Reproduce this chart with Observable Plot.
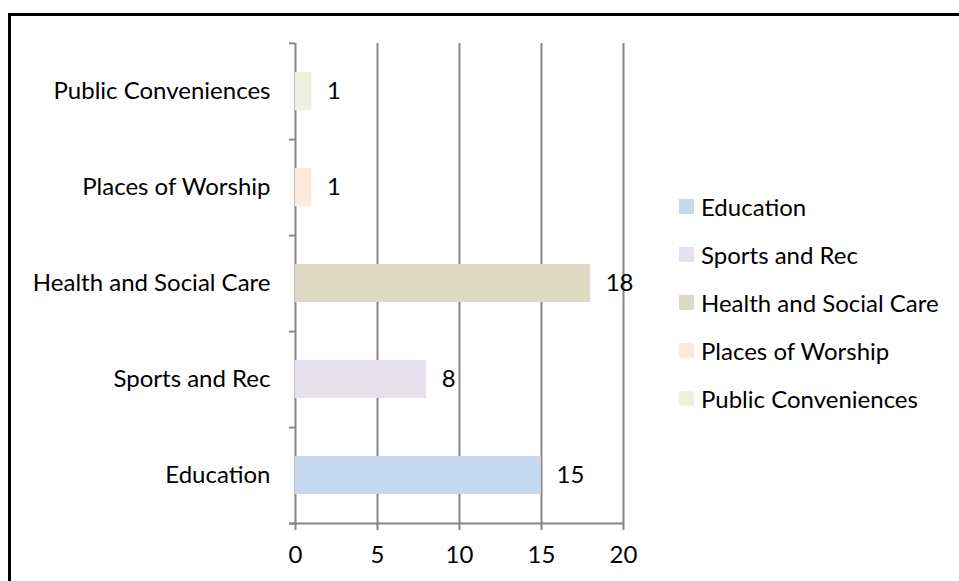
<!DOCTYPE html>
<html>
<head>
<meta charset="utf-8">
<script src="https://cdn.jsdelivr.net/npm/d3@7"></script>
<script src="https://cdn.jsdelivr.net/npm/@observablehq/plot@0.6"></script>
<style>
  html, body { margin: 0; padding: 0; background: #fff; overflow: hidden; }
  #wrap { position: relative; width: 959px; height: 581px; font-family: Lato, "Open Sans", sans-serif; }
  #frame { position: absolute; left: 8px; top: 13px; width: 980px; height: 600px; border: 3px solid #000; box-sizing: border-box; }
  #chart { position: absolute; left: 0; top: 0; }
  #legend { position: absolute; left: 679px; top: 182px; }
  .item { display: flex; align-items: center; height: 48px; font-size: 24px; color: #000; }
  .sw { width: 15px; height: 15px; margin-right: 7px; flex: none; }
</style>
</head>
<body>
<div id="wrap">
  <div id="frame"></div>
  <div id="chart"></div>
  <div id="legend"></div>
</div>
<script>
const categories = ["Education", "Sports and Rec", "Health and Social Care", "Places of Worship", "Public Conveniences"];
const values = [15, 8, 18, 1, 1];
const colors = ["#c6d9f1", "#e5e0ec", "#ddd9c3", "#fde9d9", "#ebf1de"];
const xTicks = [0, 5, 10, 15, 20];

const data = categories.map((c, i) => ({category: c, value: values[i], color: colors[i]}));

const W = 959, H = 581;
const mL = 295, mR = 336, mT = 43, mB = 57;
const yOrder = categories.slice().reverse();
const step = (H - mT - mB) / categories.length;
const grey = "#868686";
const pxPerUnit = (W - mL - mR) / 20;
const tickLen = 6 / pxPerUnit;
const fs = 24;

const chart = Plot.plot({
  width: W,
  height: H,
  marginLeft: mL,
  marginRight: mR,
  marginTop: mT,
  marginBottom: mB,
  style: {fontFamily: "Lato, 'Open Sans', sans-serif", fontSize: fs + "px", color: "#000", background: "transparent", overflow: "visible"},
  x: {domain: [0, 20], ticks: xTicks},
  y: {domain: yOrder, paddingInner: 0.6, paddingOuter: 0.3},
  marks: [
    Plot.gridX(xTicks, {stroke: grey, strokeOpacity: 1, strokeWidth: 2}),
    Plot.axisX(xTicks, {tickSize: 6, tickPadding: 15, stroke: grey, strokeWidth: 2, fill: "#000", fontSize: fs, label: null}),
    Plot.barX(data, {x: "value", y: "category", fill: "color"}),
    // y category boundary ticks
    Plot.ruleY(categories, {y: d => d, dy: step / 2, x1: -tickLen, x2: 0, stroke: grey, strokeWidth: 2, clip: false}),
    Plot.ruleY([yOrder[0]], {y: d => d, dy: -step / 2, x1: -tickLen, x2: 0, stroke: grey, strokeWidth: 2, clip: false}),
    // x baseline
    Plot.ruleY([categories[0]], {y: d => d, dy: step / 2, x1: -tickLen, x2: 20, stroke: grey, strokeWidth: 2}),
    Plot.axisY({tickSize: 0, tickPadding: 25, fill: "#000", fontSize: fs, label: null}),
    Plot.text(data, {x: "value", y: "category", text: d => String(d.value), dx: 15, textAnchor: "start", fill: "#000", fontSize: fs})
  ]
});
document.getElementById("chart").appendChild(chart);

const legend = document.getElementById("legend");
categories.forEach((c, i) => {
  const item = document.createElement("div");
  item.className = "item";
  const sw = document.createElement("span");
  sw.className = "sw";
  sw.style.background = colors[i];
  const label = document.createElement("span");
  label.textContent = c;
  item.appendChild(sw);
  item.appendChild(label);
  legend.appendChild(item);
});
</script>
</body>
</html>
